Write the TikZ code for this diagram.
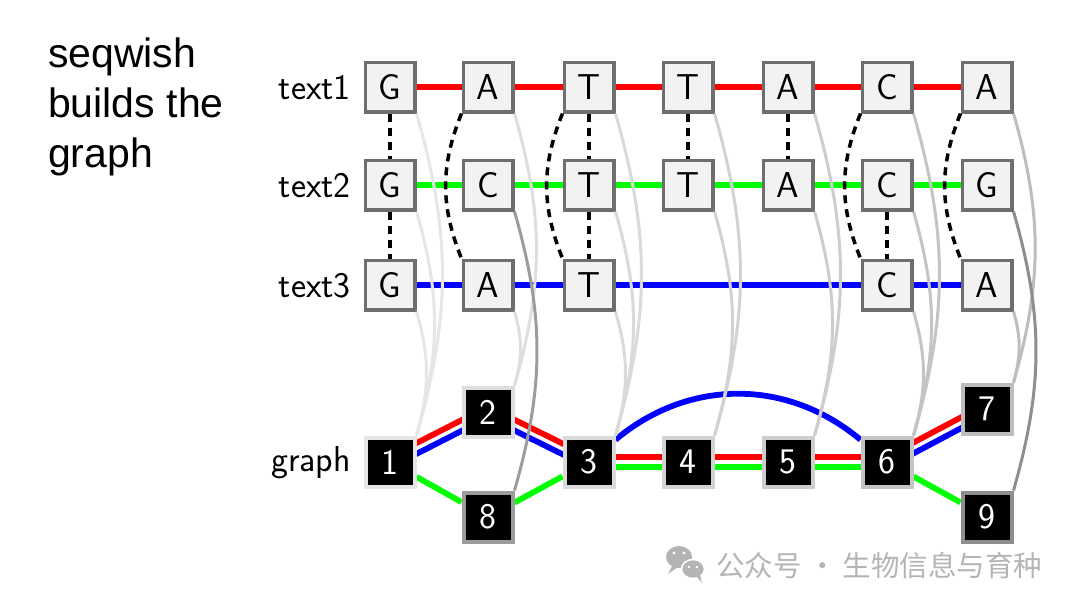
\documentclass[tikz,border=0pt]{standalone}
\usepackage{fontspec}
\newfontfamily\titlefont{Liberation Sans}
\newfontfamily\cjkfont{Noto Sans CJK SC}
\usetikzlibrary{calc}
\pgfdeclarelayer{bg}
\pgfsetlayers{bg,main}
\definecolor{boxfill}{HTML}{F2F2F2}
\definecolor{boxline}{HTML}{6E6E6E}
\definecolor{pred}{HTML}{FF0000}
\definecolor{pgreen}{HTML}{00FF00}
\definecolor{pblue}{HTML}{0000FF}
\definecolor{gA}{HTML}{E6E6E6}
\definecolor{gB}{HTML}{DEDEDE}
\definecolor{gC}{HTML}{DADADA}
\definecolor{gD}{HTML}{D2D2D2}
\definecolor{gE}{HTML}{CDCDCD}
\definecolor{gF}{HTML}{C4C4C4}
\definecolor{gG}{HTML}{BDBDBD}
\definecolor{gH}{HTML}{9C9C9C}
\definecolor{gI}{HTML}{8E8E8E}
\definecolor{wmark}{HTML}{B4B4B4}
\newcommand\dbledge[4]{%
  \draw[pathline,#3] ($(#1)!4.8pt!90:(#2)$) -- ($(#2)!4.8pt!-90:(#1)$);
  \draw[pathline,#4] ($(#1)!4.8pt!-90:(#2)$) -- ($(#2)!4.8pt!90:(#1)$);}
\begin{document}
\begin{tikzpicture}[x=1pt,y=1pt,
  seqbox/.style={draw=boxline, fill=boxfill, line width=3.5pt, minimum size=49.5pt,
    inner sep=0pt, font=\sffamily\fontsize{36}{40}\selectfont},
  gnode/.style={draw=#1, fill=black, text=white, line width=4pt, minimum size=49pt,
    inner sep=0pt, font=\sffamily\fontsize{36}{40}\selectfont},
  lbl/.style={anchor=base east, inner sep=0pt, font=\sffamily\fontsize{36}{40}\selectfont},
  ttl/.style={anchor=base west, inner sep=0pt, font=\titlefont\fontsize{41}{50}\selectfont},
  alignline/.style={line width=3.5pt, dash pattern=on 8pt off 6pt, black},
  pathline/.style={line width=5.8pt},
  link/.style={line width=3pt, draw=#1},
]
\useasboundingbox (0,0) rectangle (1080,-608);

% title
\node[ttl] (ttl1) at (48,-67) {seqwish};
\node[ttl] (ttl2) at (48,-117) {builds the};
\node[ttl] (ttl3) at (48,-167) {graph};

% row labels
\node[lbl] (l1) at (351,-99) {text1};
\node[lbl] (l2) at (351,-197) {text2};
\node[lbl] (l3) at (351,-297) {text3};
\node[lbl] (lg) at (351,-471) {graph};

% sequences
\node[seqbox] (a1) at (390,-87) {G};
\node[seqbox] (a2) at (488,-87) {A};
\node[seqbox] (a3) at (589,-87) {T};
\node[seqbox] (a4) at (688,-87) {T};
\node[seqbox] (a5) at (788,-87) {A};
\node[seqbox] (a6) at (887,-87) {C};
\node[seqbox] (a7) at (987,-87) {A};

\node[seqbox] (b1) at (390,-185) {G};
\node[seqbox] (b2) at (488,-185) {C};
\node[seqbox] (b3) at (589,-185) {T};
\node[seqbox] (b4) at (688,-185) {T};
\node[seqbox] (b5) at (788,-185) {A};
\node[seqbox] (b6) at (887,-185) {C};
\node[seqbox] (b7) at (987,-185) {G};

\node[seqbox] (c1) at (390,-285) {G};
\node[seqbox] (c2) at (488,-285) {A};
\node[seqbox] (c3) at (589,-285) {T};
\node[seqbox] (c6) at (887,-285) {C};
\node[seqbox] (c7) at (987,-285) {A};

% graph nodes
\node[gnode=gA] (n1) at (390,-462) {1};
\node[gnode=gB] (n2) at (488,-412) {2};
\node[gnode=gC] (n3) at (589,-462) {3};
\node[gnode=gD] (n4) at (688,-462) {4};
\node[gnode=gE] (n5) at (788,-462) {5};
\node[gnode=gF] (n6) at (887,-462) {6};
\node[gnode=gG] (n7) at (987,-409) {7};
\node[gnode=gH] (n8) at (488,-517) {8};
\node[gnode=gI] (n9) at (987,-517) {9};

\begin{pgfonlayer}{bg}
  % sequence paths
  \draw[pathline,pred] (a1) -- (a7);
  \draw[pathline,pgreen] (b1) -- (b7);
  \draw[pathline,pblue] (c1) -- (c7);
  % graph paths
  \dbledge{n1}{n2}{pred}{pblue}
  \dbledge{n2}{n3}{pred}{pblue}
  \dbledge{n3}{n4}{pred}{pgreen}
  \dbledge{n4}{n5}{pred}{pgreen}
  \dbledge{n5}{n6}{pred}{pgreen}
  \dbledge{n6}{n7}{pred}{pblue}
  \draw[pathline,pgreen] (n1) -- (n8);
  \draw[pathline,pgreen] (n8) -- (n3);
  \draw[pathline,pgreen] (n6) -- (n9);
  \draw[pathline,pblue] (n3) to[out=40,in=140] (n6);
\end{pgfonlayer}

% alignment links (straight)
\draw[alignline] (a1) -- (b1);
\draw[alignline] (b1) -- (c1);
\draw[alignline] (a3) -- (b3);
\draw[alignline] (b3) -- (c3);
\draw[alignline] (a4) -- (b4);
\draw[alignline] (a5) -- (b5);
\draw[alignline] (b6) -- (c6);
% alignment links (curved)
\draw[alignline] (a2.south west) to[out=-112,in=112] (c2.north west);
\draw[alignline] (a3.south west) to[out=-112,in=112] (c3.north west);
\draw[alignline] (a6.south west) to[out=-112,in=112] (c6.north west);
\draw[alignline] (a7.south west) to[out=-112,in=112] (c7.north west);

% links from sequences to graph nodes
\foreach \s/\t/\c in {a1/n1/gA, b1/n1/gA, c1/n1/gA,
                      a2/n2/gB, c2/n2/gB, b2/n8/gH,
                      a3/n3/gC, b3/n3/gC, c3/n3/gC,
                      a4/n4/gD, b4/n4/gD,
                      a5/n5/gE, b5/n5/gE,
                      a6/n6/gF, b6/n6/gF, c6/n6/gF,
                      a7/n7/gG, c7/n7/gG, b7/n9/gI}
  \draw[link=\c] (\s.south east) to[out=-74,in=74] (\t.north east);

% watermark
\fill[wmark] (679,-557) ellipse [x radius=13, y radius=11];
\fill[wmark] (672,-566) -- (668,-574) -- (678,-567) -- cycle;
\draw[white, line width=1.5pt, fill=wmark] (693,-569) ellipse [x radius=11.5, y radius=9.5];
\fill[wmark] (697,-577) -- (702,-583) -- (700,-575) -- cycle;
\fill[white] (674,-553) circle (1.7) (684,-553) circle (1.7) (689,-567) circle (1.4) (697,-567) circle (1.4);
\node[anchor=base west, inner sep=0pt, text=wmark, font=\cjkfont\fontsize{28.5}{30}\selectfont] (wm) at (716,-576) {公众号 · 生物信息与育种};
\end{tikzpicture}
\end{document}
